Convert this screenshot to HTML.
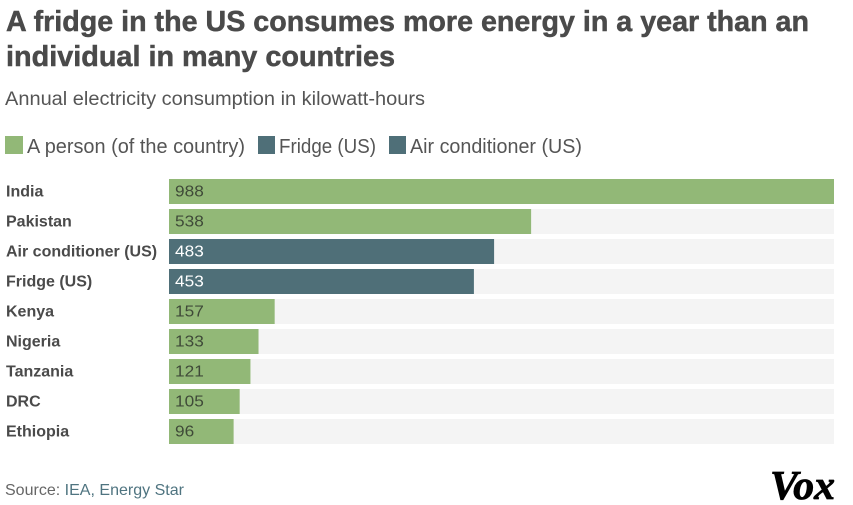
<!DOCTYPE html>
<html>
<head>
<meta charset="utf-8">
<style>
html,body{margin:0;padding:0;background:#fff;}
svg{display:block;font-family:"Liberation Sans",sans-serif;}
</style>
</head>
<body>
<svg id="chart" width="853" height="505" viewBox="0 0 853 505" xmlns="http://www.w3.org/2000/svg">
  <text x="6" y="31" font-size="29" font-weight="700" fill="#4a4a4a" stroke="#4a4a4a" stroke-width="0.5" textLength="803" lengthAdjust="spacingAndGlyphs">A fridge in the US consumes more energy in a year than an</text>
  <text x="6" y="66" font-size="29" font-weight="700" fill="#4a4a4a" stroke="#4a4a4a" stroke-width="0.5" textLength="389" lengthAdjust="spacingAndGlyphs">individual in many countries</text>
  <text x="5" y="105" font-size="19" fill="#555" textLength="420" lengthAdjust="spacingAndGlyphs">Annual electricity consumption in kilowatt-hours</text>

  <g>
    <rect x="5" y="136" width="18" height="18" fill="#92b877"/>
    <text x="27" y="153" font-size="20" fill="#555" textLength="218" lengthAdjust="spacingAndGlyphs">A person (of the country)</text>
    <rect x="258" y="136" width="17" height="18" fill="#4f6f78"/>
    <text x="279" y="153" font-size="20" fill="#555" textLength="97" lengthAdjust="spacingAndGlyphs">Fridge (US)</text>
    <rect x="389" y="136" width="17" height="18" fill="#4f6f78"/>
    <text x="410" y="153" font-size="20" fill="#555" textLength="172" lengthAdjust="spacingAndGlyphs">Air conditioner (US)</text>
  </g>

  <g id="bars"></g>

  <text x="5" y="495" font-size="16" fill="#666" textLength="179" lengthAdjust="spacingAndGlyphs">Source: <tspan fill="#4f7480">IEA, Energy Star</tspan></text>
  <text x="770" y="499" font-family="'Liberation Serif',serif" font-size="41" font-weight="700" font-style="italic" fill="#000" stroke="#000" stroke-width="0.8" textLength="65" lengthAdjust="spacingAndGlyphs">Vox</text>
</svg>
<script>
const categories = ["India", "Pakistan", "Air conditioner (US)", "Fridge (US)", "Kenya", "Nigeria", "Tanzania", "DRC", "Ethiopia"];
const values = [988, 538, 483, 453, 157, 133, 121, 105, 96];
const seriesKinds = ["person", "person", "appliance", "appliance", "person", "person", "person", "person", "person"];
const domainMax = 988;

const NS = "http://www.w3.org/2000/svg";
const plotLeft = 169, plotRight = 834, plotTop = 179, rowStep = 30, barHeight = 25;
const colorFor = { person: "#92b877", appliance: "#4f6f78" };
const xScale = v => (v / domainMax) * (plotRight - plotLeft);
const yScale = i => plotTop + i * rowStep;
const root = document.getElementById("bars");

function make(tag, attrs, text) {
  const el = document.createElementNS(NS, tag);
  for (const k in attrs) el.setAttribute(k, attrs[k]);
  if (text !== undefined) el.textContent = text;
  root.appendChild(el);
  return el;
}

categories.forEach((cat, i) => {
  const y = yScale(i);
  const slug = cat.toLowerCase().replace(/[^a-z]+/g, "-").replace(/-$/, "");

  const label = make("text", { x: 6, y: y + 17.5, "font-size": 16, "font-weight": 700, fill: "#4a4a4a" }, cat);
  
  

  const track = make("rect", { x: plotLeft, y: y, width: plotRight - plotLeft, height: barHeight, fill: "#f4f4f4" });
  
  

  const bar = make("rect", { x: plotLeft, y: y, width: xScale(values[i]), height: barHeight, fill: colorFor[seriesKinds[i]] });
  
  

  const valueText = String(values[i]);
  const val = make("text", { x: plotLeft + 6, y: y + 17.5, "font-size": 15.5, fill: seriesKinds[i] === "appliance" ? "#ffffff" : "#3f4a38", textLength: valueText.length * 9.6, lengthAdjust: "spacingAndGlyphs" }, valueText);
  
  
});
</script>
</body>
</html>
